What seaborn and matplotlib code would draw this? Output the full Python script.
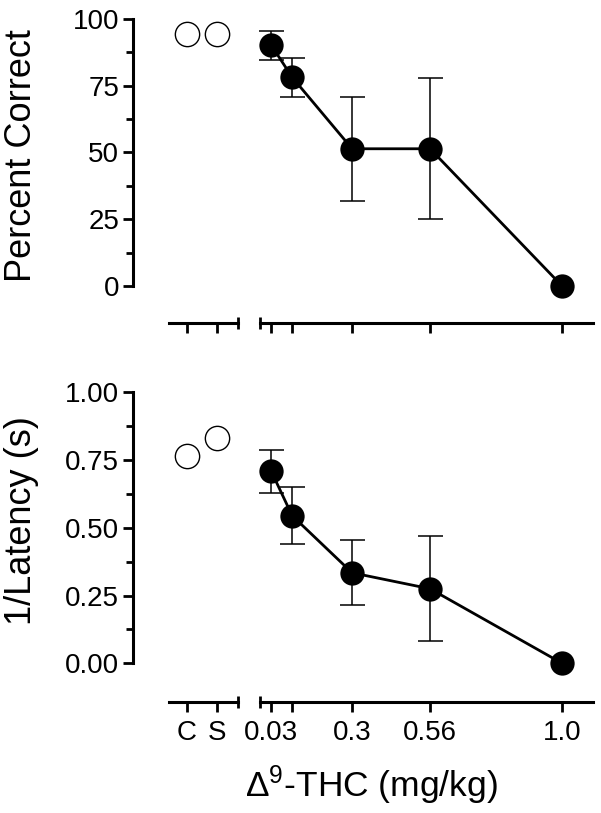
import numpy as np
import matplotlib
matplotlib.use('Agg')
import matplotlib.pyplot as plt
from matplotlib.ticker import FixedLocator
import seaborn as sns

# data
control_labels = ['C', 'S']
control_pos = [0, 1]
doses = [0.03, 0.1, 0.3, 0.56, 1.0]
dose_labels = ['0.03', '', '0.3', '0.56', '1.0']

pc_control = [94.5, 94.5]
pc_mean = [90.3, 78.2, 51.4, 51.4, 0.0]
pc_lo = [84.6, 70.8, 31.8, 25.2]
pc_hi = [95.5, 85.3, 70.9, 78.0]

lat_control = [0.765, 0.833]
lat_mean = [0.71, 0.545, 0.334, 0.275, 0.0]
lat_lo = [0.63, 0.441, 0.215, 0.083]
lat_hi = [0.787, 0.65, 0.454, 0.469]

sns.set_style('ticks')
plt.rcParams['font.family'] = ['Liberation Sans', 'DejaVu Sans']
plt.rcParams['mathtext.fontset'] = 'custom'
plt.rcParams['mathtext.rm'] = 'Liberation Sans'
plt.rcParams['mathtext.it'] = 'Liberation Sans:italic'
for k in ('text.color', 'axes.labelcolor', 'xtick.color', 'ytick.color', 'axes.edgecolor'):
    plt.rcParams[k] = 'black'

W, H = 601, 813
SPINE_LW = 2.2
MS = 17.5


def draw_panel(fig, top, axis_y, zero_y, ymax, yticks, fmt,
               ctrl, mean, lo, hi, ylabel, label_y, show_xlabels):
    bottom = 1 - axis_y / H
    height = (axis_y - top) / H
    axL = fig.add_axes([133 / W, bottom, 105 / W, height])
    axR = fig.add_axes([260 / W, bottom, 333 / W, height], sharey=axL)

    ymin = -ymax * (axis_y - zero_y) / (zero_y - top)
    axL.set_ylim(ymin, ymax)
    axL.set_xlim(-1.8, 1.7)
    axR.set_xlim(-0.007, 1.103)

    # controls
    sns.scatterplot(x=control_pos, y=ctrl, ax=axL, s=MS ** 2, color='white',
                    edgecolor='black', linewidth=1, clip_on=False, zorder=3)

    # dose response
    n = len(lo)
    err = [np.array(mean[:n]) - np.array(lo), np.array(hi) - np.array(mean[:n])]
    axR.errorbar(doses[:n], mean[:n], yerr=err, fmt='none', ecolor='black',
                 elinewidth=1.1, capsize=9, capthick=1.1, zorder=2, clip_on=False)
    sns.lineplot(x=doses, y=mean, ax=axR, color='black', linewidth=2,
                 marker='o', markersize=MS, markeredgewidth=0, zorder=3,
                 clip_on=False)

    for ax in (axL, axR):
        for s in ('top', 'right'):
            ax.spines[s].set_visible(False)
        for s in ('left', 'bottom'):
            ax.spines[s].set_linewidth(SPINE_LW)
        ax.tick_params(axis='both', which='major', direction='out', width=2,
                       length=7, labelsize=20)
    axR.spines['left'].set_visible(False)
    axR.tick_params(axis='y', which='both', left=False, labelleft=False)

    axL.spines['left'].set_bounds(0, ymax)
    axL.spines['bottom'].set_bounds(-0.6, 1.7)

    axL.yaxis.set_major_locator(FixedLocator(yticks))
    minors = [(a + b) / 2 for a, b in zip(yticks[:-1], yticks[1:])]
    axL.yaxis.set_minor_locator(FixedLocator(minors))
    axL.set_yticklabels([fmt.format(v) for v in yticks])
    axL.tick_params(axis='y', which='minor', direction='out', width=2, length=5)
    axL.tick_params(axis='y', which='major', pad=3)

    axL.set_xticks(control_pos)
    axR.set_xticks(doses)
    axL.xaxis.set_minor_locator(FixedLocator([1.7]))
    axR.xaxis.set_minor_locator(FixedLocator([-0.007]))
    for ax in (axL, axR):
        ax.tick_params(axis='x', which='minor', direction='inout', width=2, length=9)
        ax.tick_params(axis='x', which='major', pad=6, labelsize=20)

    if show_xlabels:
        axL.set_xticklabels(control_labels)
        axR.set_xticklabels(dose_labels)
    else:
        axL.tick_params(axis='x', labelbottom=False)
        axR.tick_params(axis='x', labelbottom=False)

    axL.set_xlabel('')
    axR.set_xlabel('')
    axL.set_ylabel(ylabel, fontsize=26)
    axL.yaxis.set_label_coords(39 / W, 1 - label_y / H, transform=fig.transFigure)
    return axL, axR


fig = plt.figure(figsize=(W / 100, H / 100), dpi=100)

draw_panel(fig, 19, 323, 286, 100, [0, 25, 50, 75, 100], '{:.0f}',
           pc_control, pc_mean, pc_lo, pc_hi, 'Percent Correct', 156, False)

axL, axR = draw_panel(fig, 392.3, 701.7, 663.3, 1.0, [0, 0.25, 0.5, 0.75, 1.0],
                      '{:.2f}', lat_control, lat_mean, lat_lo, lat_hi,
                      '1/Latency (s)', 521, True)

axR.set_xlabel(r'$\Delta^{9}$-THC (mg/kg)', fontsize=25.5)
axR.xaxis.set_label_coords(371 / W, 1 - 763 / H, transform=fig.transFigure)

fig.savefig('out.png', dpi=100, facecolor='white')
plt.close(fig)
